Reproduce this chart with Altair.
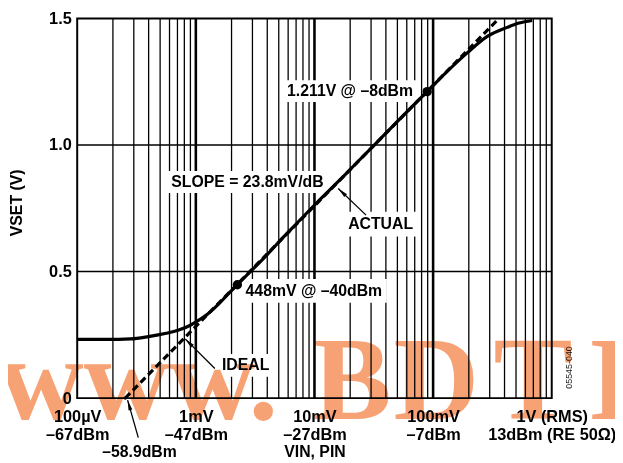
import math
import altair as alt
import pandas as pd

# ---------------- data ----------------
# Actual transfer curve: input level (dBm re 50 ohm) -> VSET (V)
actual_dbm = [-67, -62, -58, -55, -52, -50, -48, -46.7, -45, -43.3, -42, -40,
              -37.8, -35, -32.2, -30, -26.7, -22.8, -20, -15, -10, -8, -5,
              -1.2, 2.2, 5.5, 7.5, 9.7]
actual_v = [0.232, 0.232, 0.234, 0.243, 0.256, 0.268, 0.287, 0.305, 0.332, 0.368,
            0.400, 0.448, 0.500, 0.566, 0.637, 0.690, 0.770, 0.860, 0.927, 1.046,
            1.165, 1.211, 1.282, 1.365, 1.430, 1.465, 1.482, 1.492]

# Ideal line: slope 23.8 mV/dB, intercept -58.9 dBm
ideal_dbm = [-58.9, 4.1]
ideal_v = [0.0, 1.5]

# Marked points
marker_dbm = [-40, -8]
marker_v = [0.448, 1.211]

# Axis ticks
x_tick_dbm = [-67, -47, -27, -7, 13]
x_tick_volts = ["100\u00b5V", "1mV", "10mV", "100mV", "1V (RMS)"]
x_tick_dbm_txt = ["\u201367dBm", "\u201347dBm", "\u201327dBm", "\u20137dBm", "13dBm (RE 50\u03a9)"]
y_ticks = [0, 0.5, 1.0, 1.5]
y_grid = [0.5, 1.0]

# Log grid (volts)
decade_volts = [1e-4, 1e-3, 1e-2, 1e-1]
grid_mult = [2, 3, 4, 5, 6, 7, 8, 9]
major_dbm = [-47, -27, -7]

# Annotations
label_text = ["1.211V @ \u20138dBm", "SLOPE = 23.8mV/dB", "ACTUAL",
              "448mV @ \u201340dBm", "IDEAL"]
label_dbm = [-21.0, -38.3, -15.85, -27.1, -38.6]
label_v = [1.214, 0.853, 0.687, 0.423, 0.130]
box_dbm1 = [-32.4, -52.0, -22.2, -39.4, -43.4]
box_dbm2 = [-9.6, -24.5, -9.5, -14.8, -33.8]
box_v1 = [1.170, 0.810, 0.639, 0.377, 0.084]
box_v2 = [1.256, 0.897, 0.736, 0.471, 0.174]

arrow_tail_dbm = [-18.3, -43.8, -56.7]
arrow_tail_v = [0.723, 0.117, -0.156]
arrow_head_dbm = [-23.0, -48.8, -58.5]
arrow_head_v = [0.828, 0.234, -0.008]

intercept_text = "\u201358.9dBm"
intercept_dbm = -56.5
intercept_v = -0.212

watermark_parts = ["www.", "B", "D", "T", "I"]

# ---------------- chart ----------------
W, H = 480, 384
XMIN, XMAX = -67, 13
YMIN, YMAX = 0.0, 1.5
FONT = "Liberation Sans"
FS = 16        # annotation text
TFS = 16.5     # tick labels

xs = alt.Scale(domain=[XMIN, XMAX], nice=False, zero=False)
ys = alt.Scale(domain=[YMIN, YMAX], nice=False, zero=False)

label_expr = " : ".join(
    f"datum.value == {d} ? ['{a}', '{b}']" for d, a, b in zip(x_tick_dbm, x_tick_volts, x_tick_dbm_txt)
) + " : ''"

common_axis = dict(domain=False, ticks=False, grid=False, zindex=1,
                   labelFont=FONT, labelFontWeight="bold", labelFontSize=TFS, labelColor="black",
                   titleFont=FONT, titleFontWeight="bold", titleFontSize=FS, titleColor="black")
xaxis = alt.Axis(values=x_tick_dbm, labelExpr=label_expr, title="VIN, PIN",
                 labelOverlap=False, labelBound=False, labelFlush=False, labelPadding=11,
                 labelLineHeight=18, labelBaseline="top",
                 titleY=54, titleBaseline="middle", **common_axis)
yaxis = alt.Axis(values=y_ticks, labelExpr="datum.value == 0 ? '0' : format(datum.value, '.1f')",
                 title="VSET (V)", labelPadding=6, labelOverlap=False,
                 titleX=-61, titleY=186, titleAngle=270,
                 titleBaseline="middle", titleAlign="center", **common_axis)

def X(f="dbm"):
    return alt.X(f"{f}:Q", scale=xs, axis=xaxis)

def Y(f="v"):
    return alt.Y(f"{f}:Q", scale=ys, axis=yaxis)

grid_dbm = [20 * math.log10(m * d / 1e-4) + XMIN for d in decade_volts for m in grid_mult]
minor_grid = alt.Chart(pd.DataFrame({"dbm": grid_dbm})).mark_rule(
    color="black", strokeWidth=1.3).encode(x=X())
major_grid = alt.Chart(pd.DataFrame({"dbm": major_dbm})).mark_rule(
    color="black", strokeWidth=2.6).encode(x=X())
h_grid = alt.Chart(pd.DataFrame({"v": y_grid})).mark_rule(
    color="black", strokeWidth=1.5).encode(y=Y())

boxes = alt.Chart(pd.DataFrame({"dbm": box_dbm1, "dbm2": box_dbm2, "v": box_v1, "v2": box_v2})).mark_rect(
    color="white").encode(x=X(), x2="dbm2:Q", y=Y(), y2="v2:Q")

ideal = alt.Chart(pd.DataFrame({"dbm": ideal_dbm, "v": ideal_v})).mark_line(
    color="black", strokeWidth=3.2, strokeDash=[7, 4]).encode(x=X(), y=Y())
actual = alt.Chart(pd.DataFrame({"dbm": actual_dbm, "v": actual_v})).mark_line(
    color="black", strokeWidth=3.2, interpolate="monotone").encode(x=X(), y=Y())
markers = alt.Chart(pd.DataFrame({"dbm": marker_dbm, "v": marker_v})).mark_point(
    filled=True, color="black", size=90, opacity=1).encode(x=X(), y=Y())
icpt = alt.Chart(pd.DataFrame({"dbm": [ideal_dbm[0]], "v": [ideal_v[0]]})).mark_point(
    filled=True, color="black", size=12, opacity=1).encode(x=X(), y=Y())

# arrows
px_per_dbm = W / (XMAX - XMIN)
px_per_v = H / (YMAX - YMIN)
ang = []
for td, tv, hd, hv in zip(arrow_tail_dbm, arrow_tail_v, arrow_head_dbm, arrow_head_v):
    dx = (hd - td) * px_per_dbm
    dy = -(hv - tv) * px_per_v
    ang.append(math.degrees(math.atan2(dx, -dy)) % 360)
arr_df = pd.DataFrame({"dbm": arrow_tail_dbm, "v": arrow_tail_v,
                       "dbm2": arrow_head_dbm, "v2": arrow_head_v, "ang": ang})
arrow_lines = alt.Chart(arr_df).mark_rule(color="black", strokeWidth=1.3).encode(
    x=X(), x2="dbm2:Q", y=Y(), y2="v2:Q")
head_df = pd.DataFrame({"dbm": arrow_head_dbm, "v": arrow_head_v, "ang": ang})
arrow_heads = alt.Chart(head_df).mark_point(
    shape="M0,0L0.42,2.2L-0.42,2.2Z", filled=True, color="black", size=90, opacity=1).encode(
    x=X(), y=Y(), angle=alt.Angle("ang:Q", scale=None))

labels = alt.Chart(pd.DataFrame({"dbm": label_dbm, "v": label_v, "t": label_text})).mark_text(
    font=FONT, fontWeight="bold", fontSize=FS, color="black", align="center",
    baseline="middle").encode(x=X(), y=Y(), text="t:N")
icpt_label = alt.Chart(pd.DataFrame({"dbm": [intercept_dbm], "v": [intercept_v], "t": [intercept_text]})).mark_text(
    font=FONT, fontWeight="bold", fontSize=FS, color="black", align="center",
    baseline="middle").encode(x=X(), y=Y(), text="t:N")

code = alt.Chart(pd.DataFrame({"t": ["05545-040"]})).mark_text(
    font=FONT, fontSize=9, color="#222222", angle=270, align="center", baseline="middle").encode(
    text="t:N", x=alt.value(497), y=alt.value(353))

# watermark, multiplied over the drawing so black lines and text stay black
wm_x = [-80, 238, 320, 421, 517]
wm_layers = [
    alt.Chart(pd.DataFrame({"t": [part]})).mark_text(
        font="Liberation Serif", fontWeight="bold", fontSize=120, color="#F7A274",
        align="left", baseline="alphabetic", blend="multiply").encode(
        text="t:N", x=alt.value(px), y=alt.value(405))
    for part, px in zip(watermark_parts, wm_x)
]

chart = alt.layer(
    minor_grid, major_grid, h_grid, boxes, ideal, actual, markers, icpt,
    arrow_lines, arrow_heads, labels, icpt_label, code, *wm_layers
).properties(
    width=W, height=H,
    background="white",
    autosize=alt.AutoSizeParams(type="none"),
    padding={"left": 70, "top": 8, "right": 64, "bottom": 62},
).configure_view(
    stroke="black", strokeWidth=2, fill="white"
)

chart.save("out.html", embed_options={"renderer": "svg", "actions": False})
